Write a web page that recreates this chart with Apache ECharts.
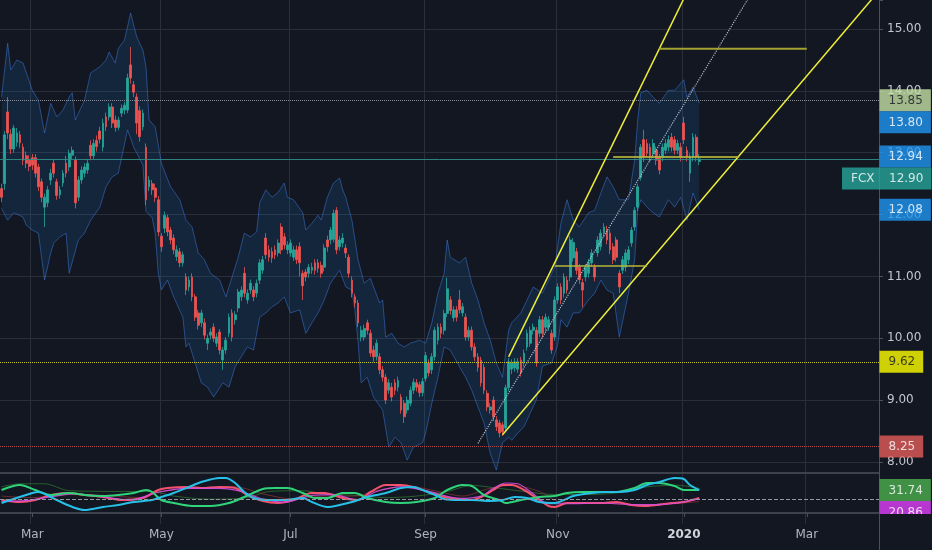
<!DOCTYPE html>
<html><head><meta charset="utf-8">
<script src="https://cdn.jsdelivr.net/npm/echarts@6/dist/echarts.min.js"></script>
<style>html,body{margin:0;padding:0;background:#131722;}#c{width:932px;height:550px;}</style>
</head><body><div id="c"></div>
<script>
// ---------- axis categories ----------
const startDate = '2019-02-14';
const barCount = 286;
const holidays = ['2019-02-18','2019-04-19','2019-05-27','2019-07-04','2019-09-02','2019-11-28','2019-12-25','2020-01-01','2020-01-20','2020-02-17'];
const tickDates = ['2019-03-01','2019-05-01','2019-07-01','2019-09-03','2019-11-01','2020-01-02','2020-03-02'];
const tickLabels = ['Mar','May','Jul','Sep','Nov','2020','Mar'];
const priceMin = 7, priceMax = 15.47, priceStep = 1;

// ---------- candles [open, close, low, high] ----------
const ohlc = [
[12.42,12.28,12.20,12.50],[12.50,13.29,12.40,13.35],[13.66,13.32,13.22,13.90],[13.30,13.06,12.98,13.38],[13.06,13.40,13.00,13.45],
[13.17,13.32,13.10,13.40],[13.29,13.16,13.08,13.35],[13.09,12.88,12.80,13.15],[12.95,12.83,12.75,13.02],[12.88,12.78,12.70,12.96],
[12.92,12.80,12.72,12.98],[12.92,12.67,12.60,12.98],[12.77,12.45,12.38,12.82],[12.53,12.28,12.20,12.58],[12.12,12.28,11.80,12.34],
[12.19,12.40,12.12,12.46],[12.56,12.67,12.48,12.74],[12.83,12.67,12.60,12.90],[12.53,12.31,12.24,12.58],[12.32,12.40,12.26,12.46],
[12.51,12.67,12.45,12.72],[12.83,12.67,12.60,12.95],[12.77,12.99,12.70,13.05],[12.96,13.04,12.90,13.10],[12.88,12.19,12.10,12.94],
[12.28,12.56,12.22,12.62],[12.56,12.72,12.50,12.78],[12.67,12.77,12.60,12.83],[12.72,12.83,12.66,12.90],[13.12,12.95,12.88,13.20],
[12.95,13.15,12.90,13.22],[13.20,13.10,13.02,13.28],[13.35,13.22,13.15,13.42],[13.09,13.48,13.02,13.55],[13.58,13.42,13.35,13.65],
[13.58,13.74,13.52,13.80],[13.74,13.48,13.40,13.80],[13.53,13.41,13.34,13.60],[13.41,13.53,13.36,13.58],[13.64,13.72,13.58,13.78],
[13.69,13.77,13.62,13.82],[13.69,14.21,13.64,14.28],[14.42,14.21,14.12,14.71],[14.10,13.98,13.90,14.16],[13.90,13.48,13.30,13.96],
[13.68,13.26,13.18,13.75],[13.42,13.64,13.36,13.70],[13.09,12.24,12.15,13.15],[12.45,12.56,12.38,12.62],[12.50,12.40,12.32,12.56],
[12.43,12.28,12.20,12.50],[12.24,11.72,11.65,12.30],[11.65,11.48,11.40,11.70],[11.78,11.99,11.70,12.05],[11.95,11.72,11.65,12.00],
[11.75,11.59,11.52,11.80],[11.62,11.43,11.36,11.68],[11.32,11.43,11.25,11.50],[11.40,11.22,11.15,11.46],[11.22,11.35,11.16,11.40],
[10.99,10.78,10.70,11.05],[10.83,10.94,10.76,11.00],[10.99,10.67,10.60,11.05],[10.67,10.34,10.28,10.72],[10.41,10.21,10.14,10.46],
[10.25,10.41,10.18,10.46],[10.25,10.05,9.98,10.32],[9.92,10.00,9.81,10.06],[10.05,10.10,9.98,10.16],[10.18,10.00,9.94,10.24],
[9.92,10.02,9.86,10.08],[10.10,9.81,9.74,10.15],[9.65,9.81,9.49,9.86],[9.81,9.97,9.75,10.02],[10.08,10.34,10.02,10.40],
[10.41,10.02,9.95,10.47],[10.30,10.38,10.22,10.44],[10.49,10.75,10.42,10.80],[10.67,10.78,10.60,10.84],[11.05,10.73,10.66,11.15],
[10.62,10.73,10.56,10.79],[10.78,10.89,10.72,10.95],[10.78,10.67,10.60,10.84],[10.73,10.89,10.66,10.95],[10.94,11.22,10.88,11.28],
[11.10,11.27,11.04,11.33],[11.62,11.35,11.28,11.70],[11.43,11.31,11.24,11.50],[11.40,11.30,11.22,11.47],[11.43,11.35,11.28,11.50],
[11.38,11.54,11.32,11.60],[11.80,11.43,11.36,11.86],[11.64,11.51,11.44,11.70],[11.43,11.51,11.36,11.57],[11.38,11.54,11.32,11.60],
[11.31,11.43,11.25,11.49],[11.43,11.27,11.20,11.50],[11.48,11.22,11.00,11.55],[11.05,10.85,10.62,11.10],[11.07,10.99,10.92,11.12],
[11.05,11.15,10.98,11.20],[11.10,11.15,11.04,11.22],[11.22,11.10,11.03,11.28],[11.22,11.13,11.06,11.28],[11.18,11.05,10.98,11.24],
[11.15,11.46,11.08,11.52],[11.59,11.48,11.40,11.66],[11.59,11.75,11.52,11.80],[11.60,12.02,11.55,12.08],[12.07,11.43,11.36,12.12],
[11.48,11.59,11.42,11.65],[11.54,11.62,11.47,11.70],[11.46,11.38,11.30,11.52],[11.31,11.05,10.98,11.36],[10.94,10.73,10.66,11.00],
[10.67,10.57,10.50,10.72],[10.57,10.25,10.18,10.62],[10.02,10.13,9.95,10.20],[10.02,10.16,9.96,10.22],[10.25,10.13,10.06,10.30],
[10.08,9.76,9.70,10.14],[9.81,9.70,9.62,9.88],[9.70,9.92,9.64,9.98],[9.70,9.49,9.42,9.76],[9.49,9.37,9.30,9.55],
[9.37,9.00,8.94,9.42],[9.16,9.28,9.10,9.34],[9.21,9.05,8.98,9.28],[9.28,9.16,9.08,9.34],[9.21,9.32,9.14,9.38],
[9.05,8.84,8.78,9.10],[8.95,8.73,8.63,9.00],[8.84,9.00,8.78,9.06],[8.95,9.16,8.90,9.22],[9.16,9.29,9.10,9.35],
[9.28,9.21,9.14,9.34],[9.25,9.12,9.05,9.30],[9.12,9.30,9.06,9.36],[9.35,9.72,9.30,9.78],[9.60,9.44,9.38,9.66],
[9.49,9.70,9.42,9.76],[9.70,10.13,9.64,10.18],[9.97,10.18,9.90,10.24],[10.18,10.08,10.00,10.24],[10.13,10.40,10.06,10.46],
[10.40,10.80,10.34,10.98],[10.62,10.45,10.38,10.68],[10.33,10.46,10.27,10.52],[10.46,10.34,10.27,10.52],[10.62,10.46,10.40,10.78],
[10.41,10.51,10.35,10.57],[10.34,10.02,9.96,10.40],[10.02,10.13,9.96,10.19],[10.13,9.86,9.80,10.19],[9.86,9.70,9.63,9.92],
[9.70,9.53,9.46,9.76],[9.65,9.28,9.22,9.70],[9.53,9.16,9.10,9.58],[9.11,8.89,8.82,9.16],[8.84,8.89,8.78,8.95],
[9.00,8.73,8.66,9.06],[8.68,8.57,8.50,8.74],[8.63,8.47,8.40,8.68],[8.60,8.49,8.42,8.65],[8.55,9.20,8.50,9.25],
[9.20,9.62,9.15,9.68],[9.50,9.60,9.42,9.66],[9.52,9.62,9.46,9.68],[9.50,9.62,9.44,9.68],[9.65,9.44,9.38,9.70],
[9.60,9.76,9.54,9.82],[9.86,10.08,9.80,10.14],[9.92,10.13,9.86,10.19],[10.13,10.18,10.06,10.24],[10.13,9.60,9.54,10.18],
[10.08,10.30,10.02,10.36],[10.30,10.08,10.01,10.36],[10.18,10.34,10.12,10.40],[10.18,10.30,10.12,10.36],[10.08,9.81,9.75,10.14],
[10.02,10.62,9.96,10.68],[10.62,10.83,10.56,10.89],[10.83,10.62,10.55,10.89],[10.73,10.99,10.66,11.05],[10.94,10.78,10.72,11.00],
[10.99,11.59,10.92,11.65],[11.30,11.55,11.24,11.62],[11.40,11.10,11.03,11.46],[11.15,10.95,10.88,11.20],[10.90,10.78,10.50,10.96],
[10.99,11.15,10.92,11.20],[11.05,11.22,10.98,11.28],[11.22,11.38,11.16,11.44],[11.15,10.99,10.92,11.20],[11.38,11.59,11.32,11.65],
[11.48,11.70,11.42,11.76],[11.70,11.80,11.64,11.86],[11.75,11.59,11.52,11.82],[11.70,11.43,11.36,11.76],[11.48,11.27,11.20,11.54],
[11.59,11.31,11.24,11.64],[11.05,10.83,10.73,11.10],[11.10,11.27,11.04,11.33],[11.15,11.38,11.08,11.44],[11.27,11.43,11.20,11.49],
[11.54,11.75,11.48,11.80],[11.80,12.07,11.74,12.12],[12.12,12.45,12.06,12.50],[12.60,13.09,12.55,13.14],[13.21,12.93,12.85,13.37],
[13.15,12.99,12.92,13.22],[13.09,12.93,12.86,13.15],[12.99,13.15,12.92,13.22],[13.04,12.88,12.80,13.10],[12.93,12.72,12.65,12.98],
[12.93,13.09,12.86,13.15],[13.04,13.15,12.98,13.22],[13.09,13.21,13.02,13.28],[13.25,13.09,13.02,13.32],[13.21,13.04,12.97,13.27],
[13.04,13.15,12.98,13.21],[13.09,12.93,12.86,13.16],[13.48,13.21,13.14,13.58],[13.04,12.93,12.86,13.10],[12.67,12.93,12.53,12.99],
[12.93,13.25,12.86,13.32],[13.25,12.93,12.86,13.30],[12.86,12.90,12.80,12.98]
];

// ---------- envelope band [barIndex, price] ----------
const bandUpper = [[0,13.90],[2,14.77],[3,14.34],[5,14.50],[7,14.45],[10,14.01],[12,13.85],[14,13.32],[16,13.80],[18,13.58],[20,13.69],[22,13.90],[23,13.97],[24,13.53],[27,13.85],[29,14.29],[32,14.39],[34,14.50],[35,14.63],[37,14.45],[38,14.69],[40,14.82],[42,15.26],[44,14.87],[46,14.66],[47,14.39],[48,13.53],[50,13.42],[52,12.83],[55,12.45],[58,12.24],[60,11.91],[62,11.80],[64,11.38],[66,11.27],[68,11.05],[71,10.94],[73,10.67],[75,10.99],[77,11.31],[79,11.70],[81,11.64],[83,11.72],[84,12.19],[86,12.40],[88,12.28],[90,12.36],[92,12.51],[93,12.28],[95,12.24],[98,12.03],[99,11.75],[101,11.86],[103,11.99],[104,11.91],[106,12.28],[108,12.51],[110,12.59],[111,12.40],[112,12.28],[114,11.91],[116,11.27],[118,10.89],[120,10.97],[123,10.57],[124,10.62],[125,10.02],[127,10.08],[129,9.92],[131,9.86],[133,9.92],[136,9.97],[138,9.92],[140,10.25],[142,10.73],[144,11.05],[145,11.59],[146,11.31],[149,11.22],[151,11.31],[153,10.89],[155,10.62],[157,10.25],[159,9.97],[161,9.60],[163,9.37],[165,10.13],[166,10.25],[169,10.41],[173,10.83],[176,10.73],[180,11.15],[182,11.86],[184,12.24],[186,11.91],[188,11.80],[191,12.03],[193,12.07],[195,12.35],[197,12.61],[199,12.45],[201,12.24],[204,12.24],[206,12.88],[207,13.53],[208,13.97],[210,14.01],[212,13.90],[214,13.80],[217,14.01],[219,14.01],[222,14.18],[223,13.90],[225,14.06],[227,13.80]];
const bandLower = [[0,12.10],[2,11.91],[4,12.03],[7,11.96],[8,11.83],[10,11.75],[12,11.70],[14,10.94],[16,11.38],[17,11.54],[19,11.64],[21,11.70],[22,11.05],[25,11.59],[27,11.70],[29,11.91],[32,12.12],[34,12.45],[36,12.61],[38,12.67],[41,13.37],[43,13.09],[46,12.80],[47,12.05],[49,11.95],[50,11.70],[51,11.05],[52,10.78],[54,10.94],[56,10.67],[59,10.34],[60,9.86],[61,9.92],[63,9.60],[65,9.28],[67,9.21],[69,9.05],[72,9.28],[74,9.21],[76,9.54],[78,9.70],[80,9.86],[82,9.81],[84,10.34],[86,10.41],[88,10.51],[90,10.57],[92,10.67],[94,10.41],[97,10.46],[99,10.08],[101,10.25],[103,10.41],[105,10.62],[107,10.89],[110,11.10],[112,10.83],[114,10.78],[115,10.45],[116,9.95],[117,9.28],[119,9.37],[121,9.05],[124,8.84],[126,8.24],[128,8.40],[130,8.31],[132,8.03],[134,8.24],[137,8.31],[138,8.47],[140,8.95],[142,9.37],[144,9.86],[146,9.81],[149,9.54],[151,9.37],[153,9.16],[155,8.89],[157,8.63],[159,8.14],[161,7.87],[163,8.31],[165,8.40],[166,8.35],[168,8.47],[170,8.57],[172,8.79],[174,9.00],[176,9.55],[179,9.60],[181,9.90],[182,10.30],[184,10.18],[186,10.41],[188,10.41],[191,10.62],[193,10.73],[195,10.94],[197,10.78],[199,10.73],[201,10.02],[204,10.73],[206,11.27],[207,12.07],[208,12.24],[210,12.12],[212,12.03],[214,11.96],[217,12.24],[219,12.12],[221,12.28],[223,11.91],[225,12.35],[227,12.08]];

// ---------- drawings [barIndex, price] ----------
const channelUpper = [[165,9.70],[227,16.0]];
const channelLower = [[163,8.44],[285,15.59]];
const channelMid = [[155,8.30],[250,16.07]];
const levelHigh = [[214,14.68],[262,14.68]];
const levelMid = [[199,12.93],[240,12.93]];
const levelLow = [[180,11.17],[210,11.17]];
const hLineValues = [13.85, 12.90, 9.62, 8.25];
const hLineColors = ['#9598a1','#2f8f86','#d8d81e','#c0504e'];
const hLineTypes = ['dotted','solid','dotted','dotted'];

// ---------- right side price tags ----------
const tagValues = [13.85, 13.80, 12.94, 12.90, 12.08, 9.62, 8.25];
const tagBg = ['#c5e1a5','#2196f3','#2196f3','#26a69a','#2196f3','#ffff00','#e35d5b'];
const tagFg = ['#131722','#ffffff','#ffffff','#ffffff','#ffffff','#131722','#ffffff'];
const tagName = ['','','','FCX','','',''];

// ---------- oscillator panel [barIndex, value] ----------
const oscCyan = [[0,15],[10,28],[12,29.3],[16,22.8],[20,15],[24,8.5],[27,5.9],[33,9.8],[38,12.4],[43,16.3],[49,18.9],[52,22.8],[56,28],[61,35.8],[65,42.3],[71,47.5],[73,47.5],[76,41],[79,29.3],[82,21.5],[87,18.9],[92,18.9],[98,21.5],[101,16.3],[106,9.8],[110,12.4],[114,16.3],[119,22.8],[125,28],[130,34.5],[134,35.8],[137,31.9],[141,25.4],[144,20.2],[149,18.9],[153,18.9],[159,17.6],[163,18.9],[167,22.8],[171,21.5],[175,16.3],[180,15],[183,18.9],[186,24.1],[192,28],[197,29.3],[201,29.3],[206,31.9],[210,38.4],[214,42.3],[219,47.5],[222,46.2],[224,38.4],[227,31.9]];
const oscGreen = [[0,31.9],[6,38.4],[11,31.9],[16,25.4],[22,28],[27,25.4],[33,24.1],[38,25.4],[43,28],[47,31.9],[49,29.3],[52,18.9],[56,15],[62,11.1],[68,11.1],[74,15],[79,22.8],[85,33.2],[89,34.5],[93,34.5],[98,28],[102,21.5],[106,21.5],[111,28],[115,28],[119,21.5],[125,16.3],[130,15],[135,16.3],[141,21.5],[145,31.9],[150,38.4],[153,37.1],[157,25.4],[162,18.9],[164,15],[169,18.9],[175,22.8],[180,24.1],[184,28],[189,29.3],[195,29.3],[200,29.3],[206,34.5],[210,41],[214,41],[219,37.1],[222,31.9],[227,31.74]];
const oscRed = [[0,18.9],[6,16.3],[11,18.9],[16,25.4],[22,28],[27,25.4],[33,22.8],[39,18.9],[46,21.5],[51,31.9],[54,34.5],[60,35.8],[65,34.5],[71,35.8],[76,34.5],[80,25.4],[85,17.6],[90,15],[95,18.9],[101,28],[105,28],[111,21.5],[116,18.9],[120,29.3],[125,38.4],[130,38.4],[134,35.8],[139,29.3],[144,22.8],[149,20.2],[153,18.9],[156,22.8],[160,31.9],[163,38.4],[166,38.4],[170,31.9],[175,18.9],[178,11.1],[180,9.8],[184,15],[189,15],[195,15],[200,16.3],[205,12.4],[209,11.1],[213,12.4],[218,15],[222,16.3],[227,21.5]];
const oscMagenta = [[0,17],[8,18],[16,23],[24,27],[33,23],[42,19],[51,29],[60,34],[71,34],[78,30],[85,20],[92,16],[101,25],[108,26],[116,19],[122,30],[130,36],[139,30],[149,21],[156,24],[160,34],[164,41],[168,40],[172,30],[178,14],[184,14],[195,15],[205,13],[213,13],[220,15],[227,20.86]];
const oscDarkGreen = [[0,36],[6,40],[14,40],[22,31],[40,30],[49,30],[56,24],[68,20],[80,22],[87,30],[98,31],[105,27],[115,25],[125,22],[135,24],[145,30],[153,38],[160,35],[170,30],[180,26],[190,26],[200,28],[210,36],[220,38],[227,34]];
const oscDarkRed = [[0,24],[10,22],[22,26],[33,25],[45,22],[52,30],[62,34],[76,36],[85,27],[95,20],[105,24],[115,24],[122,31],[132,37],[142,30],[150,24],[158,33],[166,38],[175,30],[182,16],[195,15],[210,12],[227,17]];
const oscLevel = 20;
const oscTagValues = [31.74, 20.86];
const oscTagBg = ['#4caf50','#e040fb'];

// ---------- build ----------
function tradingDays(start, n, hol) {
  const out = []; const d = new Date(start + 'T00:00:00Z');
  while (out.length < n) {
    const wd = d.getUTCDay(); const s = d.toISOString().slice(0, 10);
    if (wd !== 0 && wd !== 6 && hol.indexOf(s) < 0) out.push(s);
    d.setUTCDate(d.getUTCDate() + 1);
  }
  return out;
}
const dates = tradingDays(startDate, barCount, holidays);
const tickSet = new Set(tickDates);
const tickInterval = (i, v) => tickSet.has(v);
const lastIdx = ohlc.length - 1;
const FONT = 'DejaVu Sans';
const GRID = '#2a2e39';
const AXIS = '#4c505b';
const splitCount = Math.floor((priceMax - priceMin) / priceStep) + 2;
const splitColors = [];
for (let i = 0; i < splitCount; i++) splitColors.push((i === 0 || i === splitCount - 1) ? 'rgba(0,0,0,0)' : GRID);

const chart = echarts.init(document.getElementById('c'), null, { renderer: 'canvas' });

function seg(data, color, width, type, opacity) {
  return { type: 'line', xAxisIndex: 0, yAxisIndex: 0, data: data, symbol: 'none', silent: true, z: 5,
    lineStyle: { color: color, width: width, type: type || 'solid', opacity: opacity == null ? 1 : opacity } };
}
function osc(data, color, width, opacity, z) {
  return { type: 'line', xAxisIndex: 1, yAxisIndex: 1, data: data, symbol: 'none', silent: true, smooth: 0.3, z: z || 3,
    lineStyle: { color: color, width: width, opacity: opacity } };
}
const tagLabel = (bg, fg) => ({
  show: true, position: 'right', backgroundColor: bg, color: fg, fontFamily: FONT, fontSize: 12, lineHeight: 13,
  padding: [5, 8, 4, 9],
  rich: { n: { width: 38, color: fg, fontFamily: FONT, fontSize: 12, lineHeight: 13 }, v: { color: fg, fontFamily: FONT, fontSize: 12, lineHeight: 13 } }
});

const option = {
  backgroundColor: '#131722',
  animation: false,
  textStyle: { fontFamily: FONT },
  grid: [
    { left: -2, right: 53, top: 0, bottom: 26.2 },
    { left: -2, right: 53, top: 473, bottom: 37 }
  ],
  xAxis: [
    { type: 'category', gridIndex: 0, data: dates, boundaryGap: true,
      axisLine: { show: false }, axisTick: { show: false }, axisLabel: { show: false },
      splitLine: { show: true, interval: tickInterval, lineStyle: { color: GRID, width: 1 } } },
    { type: 'category', gridIndex: 1, data: dates, boundaryGap: true,
      axisLine: { show: true, lineStyle: { color: AXIS, width: 1.5 } },
      axisTick: { show: true, interval: tickInterval, alignWithLabel: true, length: 4, lineStyle: { color: AXIS } },
      axisLabel: { show: true, interval: tickInterval, margin: 16, color: '#b2b5be', fontSize: 12, fontFamily: FONT,
        formatter: (v) => { const k = tickDates.indexOf(v); if (k < 0) return ''; return tickLabels[k] === '2020' ? '{b|2020}' : tickLabels[k]; },
        rich: { b: { fontWeight: 'bold', color: '#d1d4dc', fontSize: 12, fontFamily: FONT } } },
      splitLine: { show: false } },
    { type: 'category', gridIndex: 1, data: dates, position: 'top', boundaryGap: true,
      axisLine: { show: true, lineStyle: { color: AXIS, width: 1.5 } }, axisTick: { show: false }, axisLabel: { show: false }, splitLine: { show: false } }
  ],
  yAxis: [
    { type: 'value', gridIndex: 0, position: 'right', min: priceMin, max: priceMax, interval: priceStep,
      axisLine: { show: true, lineStyle: { color: AXIS, width: 1 } },
      axisTick: { show: true, length: 4, lineStyle: { color: AXIS } },
      axisLabel: { color: '#c3c6ce', fontSize: 12, fontFamily: FONT, margin: 8,
        formatter: (v) => (v <= priceMin || Math.abs(v - Math.round(v)) > 0.001) ? '' : v.toFixed(2) },
      splitLine: { show: true, lineStyle: { width: 1, color: splitColors } } },
    { type: 'value', gridIndex: 1, position: 'right', min: 2, max: 54,
      axisLine: { show: true, lineStyle: { color: AXIS, width: 1 } }, axisTick: { show: false }, axisLabel: { show: false }, splitLine: { show: false } }
  ],
  graphic: [
    { type: 'rect', z: 100, silent: true, shape: { x: 879.5, y: 514, width: 60, height: 40 }, style: { fill: '#131722' } },
    { type: 'line', z: 101, silent: true, shape: { x1: 879.5, y1: 513, x2: 879.5, y2: 550 }, style: { stroke: AXIS, lineWidth: 1 } }
  ],
  series: [
    { type: 'custom', xAxisIndex: 0, yAxisIndex: 0, z: 1, silent: true, data: [[0, 10]],
      renderItem: (params, api) => {
        const pts = bandUpper.map(p => api.coord(p)).concat(bandLower.slice().reverse().map(p => api.coord(p)));
        return { type: 'polygon', shape: { points: pts }, style: { fill: 'rgba(33,150,243,0.12)' } };
      } },
    { type: 'line', xAxisIndex: 0, yAxisIndex: 0, data: bandUpper, symbol: 'none', silent: true, z: 2,
      lineStyle: { color: 'rgba(66,133,244,0.45)', width: 1 } },
    { type: 'line', xAxisIndex: 0, yAxisIndex: 0, data: bandLower, symbol: 'none', silent: true, z: 2,
      lineStyle: { color: 'rgba(66,133,244,0.45)', width: 1 } },
    { type: 'candlestick', xAxisIndex: 0, yAxisIndex: 0, data: ohlc, barWidth: 2.3, z: 3, silent: true,
      itemStyle: { color: '#26a69a', color0: '#ef5350', borderColor: '#26a69a', borderColor0: '#ef5350', borderWidth: 0.8 },
      markLine: { silent: true, symbol: 'none', label: { show: false },
        data: hLineValues.map((v, i) => ({ yAxis: v, lineStyle: { color: hLineColors[i], type: hLineTypes[i], width: 1, opacity: 0.9 } })) } },
    seg(channelMid, '#c8cad0', 1.2, 'dotted', 0.9),
    seg(channelUpper, '#eeee3a', 1.5),
    seg(channelLower, '#eeee3a', 1.5),
    seg(levelHigh, '#a3a332', 2),
    seg(levelMid, '#b5b53a', 2, 'solid', 0.85),
    seg(levelLow, '#b5b53a', 2, 'solid', 0.75),
    { type: 'scatter', xAxisIndex: 0, yAxisIndex: 0, symbolSize: 0, silent: true, z: 10,
      data: tagValues.map((v, i) => ({
        value: [lastIdx, v],
        label: Object.assign(tagLabel(tagBg[i], tagFg[i]), {
          formatter: tagName[i] ? '{n|' + tagName[i] + '}{v|' + v.toFixed(2) + '}' : v.toFixed(2) })
      })),
      labelLayout: (p) => ({ x: tagName[p.dataIndex] ? 842 : 879.5, align: 'left', verticalAlign: 'middle', moveOverlap: 'shiftY' }) },
    osc(oscDarkGreen, '#2e7d32', 1, 0.7, 2),
    osc(oscDarkRed, '#8e3535', 1, 0.7, 2),
    Object.assign(osc(oscRed, '#f4516c', 2, 1), {
      markLine: { silent: true, symbol: 'none', label: { show: false }, data: [{ yAxis: oscLevel, lineStyle: { color: '#9598a1', type: 'dashed', width: 1 } }] } }),
    osc(oscMagenta, '#d54fe0', 1.2, 0.9),
    osc(oscGreen, '#2fd37a', 2, 1),
    osc(oscCyan, '#26c0e8', 2, 1),
    { type: 'scatter', xAxisIndex: 1, yAxisIndex: 1, symbolSize: 0, silent: true, z: 10,
      data: oscTagValues.map((v, i) => ({ value: [lastIdx, v], label: Object.assign(tagLabel(oscTagBg[i], '#ffffff'), { formatter: v.toFixed(2) }) })),
      labelLayout: () => ({ x: 879.5, align: 'left', verticalAlign: 'middle', moveOverlap: 'shiftY' }) }
  ]
};
chart.setOption(option);
</script>
</body></html>
